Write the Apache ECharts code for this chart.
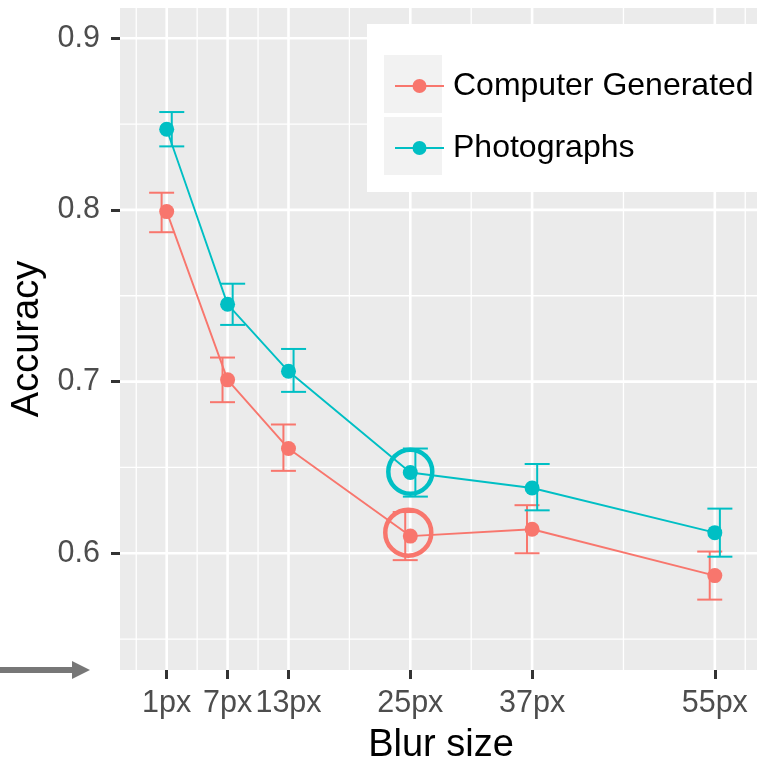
<!DOCTYPE html>
<html><head><meta charset="utf-8">
<script src="https://cdn.jsdelivr.net/npm/echarts@6/dist/echarts.min.js"></script>
<style>html,body{margin:0;padding:0;background:#fff}#c{width:757px;height:759px}</style>
</head><body><div id="c"></div>
<script>
// ---- data ----
const blurSizes = [1, 7, 13, 25, 37, 55];
const tickLabelSuffix = 'px';
const cgMean = [0.799, 0.701, 0.661, 0.610, 0.614, 0.587];
const cgLow  = [0.787, 0.688, 0.648, 0.596, 0.600, 0.573];
const cgHigh = [0.810, 0.714, 0.675, 0.624, 0.628, 0.601];
const phMean = [0.847, 0.745, 0.706, 0.647, 0.638, 0.612];
const phLow  = [0.837, 0.733, 0.694, 0.633, 0.625, 0.598];
const phHigh = [0.857, 0.757, 0.719, 0.661, 0.652, 0.626];
const yTicks = [0.6, 0.7, 0.8, 0.9];
const yMinor = [0.55, 0.65, 0.75, 0.85];
const xMinor = [-2, 4, 10, 19, 31, 46, 58];
const highlightCG = [24.8, 0.612];
const highlightPH = [25.0, 0.6475];
const seriesNames = ['Computer Generated', 'Photographs'];

// ---- settings ----
const X_MIN = -3.6, X_MAX = 59.65, Y_MIN = 0.532, Y_MAX = 0.9176;
const RED = '#F8766D', CYAN = '#00BFC4';
const DODGE = 0.5, CAP_HALF = 12.5;

const gridData = [];
blurSizes.forEach(v => gridData.push([v, 0, 1]));
xMinor.forEach(v => gridData.push([v, 0, 0]));
yTicks.forEach(v => gridData.push([v, 1, 1]));
yMinor.forEach(v => gridData.push([v, 1, 0]));

function gridRender(params, api) {
  const v = api.value(0), horiz = api.value(1), major = api.value(2);
  const cs = params.coordSys;
  let shape;
  if (horiz) {
    const p = api.coord([X_MIN, v]);
    shape = {x1: cs.x, y1: p[1], x2: cs.x + cs.width, y2: p[1]};
  } else {
    const p = api.coord([v, Y_MIN]);
    shape = {x1: p[0], y1: cs.y, x2: p[0], y2: cs.y + cs.height};
  }
  return {type: 'line', shape: shape, style: {stroke: '#FFFFFF', lineWidth: major ? 2.6 : 1.3}};
}

function errRender(shift, color) {
  return function (params, api) {
    const x = api.value(0) + shift;
    const lo = api.coord([x, api.value(1)]);
    const hi = api.coord([x, api.value(2)]);
    const st = {stroke: color, lineWidth: 2};
    return {type: 'group', children: [
      {type: 'line', shape: {x1: lo[0], y1: lo[1], x2: hi[0], y2: hi[1]}, style: st},
      {type: 'line', shape: {x1: lo[0] - CAP_HALF, y1: lo[1], x2: lo[0] + CAP_HALF, y2: lo[1]}, style: st},
      {type: 'line', shape: {x1: hi[0] - CAP_HALF, y1: hi[1], x2: hi[0] + CAP_HALF, y2: hi[1]}, style: st}
    ]};
  };
}

const cgErr = blurSizes.map((x, i) => [x, cgLow[i], cgHigh[i]]);
const phErr = blurSizes.map((x, i) => [x, phLow[i], phHigh[i]]);
const cgPts = blurSizes.map((x, i) => [x, cgMean[i]]);
const phPts = blurSizes.map((x, i) => [x, phMean[i]]);

const chart = echarts.init(document.getElementById('c'), null, {renderer: 'canvas'});
const FONT = '"Liberation Sans", Arial, Helvetica, sans-serif';
chart.setOption({
  animation: false,
  backgroundColor: '#FFFFFF',
  grid: {left: 120, top: 8, right: -5, bottom: 89, show: true, backgroundColor: '#EBEBEB', borderWidth: 0,
    containLabel: false, outerBoundsMode: 'none'},
  xAxis: {
    type: 'value', min: X_MIN, max: X_MAX,
    name: 'Blur size', nameLocation: 'middle', nameGap: 57,
    nameTextStyle: {fontSize: 38, color: '#000', fontFamily: FONT},
    axisLine: {show: false, onZero: false},
    splitLine: {show: false},
    axisTick: {show: true, customValues: blurSizes, length: 9, lineStyle: {color: '#333333', width: 3}},
    axisLabel: {customValues: blurSizes, formatter: v => v + tickLabelSuffix, margin: 18,
      fontSize: 30.5, color: '#4D4D4D', fontFamily: FONT}
  },
  yAxis: {
    type: 'value', min: Y_MIN, max: Y_MAX,
    name: 'Accuracy', nameLocation: 'middle', nameGap: 71, nameRotate: 90,
    nameTextStyle: {fontSize: 38, color: '#000', fontFamily: FONT},
    axisLine: {show: false, onZero: false},
    splitLine: {show: false},
    axisTick: {show: true, customValues: yTicks, length: 9, lineStyle: {color: '#333333', width: 3}},
    axisLabel: {customValues: yTicks, formatter: v => v.toFixed(1), margin: 20,
      fontSize: 30.5, color: '#4D4D4D', fontFamily: FONT}
  },
  legend: {
    data: seriesNames, orient: 'vertical', left: 389, top: 61, z: 100,
    itemWidth: 49, itemHeight: 17.5, itemGap: 22,
    textStyle: {fontSize: 32, color: '#000', fontFamily: FONT, lineHeight: 40, padding: [0, 0, 0, 4]},
    selectedMode: false
  },
  graphic: [
    {type: 'rect', z: 50, shape: {x: 367, y: 24, width: 420, height: 168}, style: {fill: '#FFFFFF'}},
    {type: 'rect', z: 51, shape: {x: 384, y: 55, width: 58, height: 58}, style: {fill: '#F2F2F2'}},
    {type: 'rect', z: 51, shape: {x: 384, y: 117, width: 58, height: 58}, style: {fill: '#F2F2F2'}},
    {type: 'line', z: 50, shape: {x1: 0, y1: 670, x2: 74, y2: 670}, style: {stroke: '#777777', lineWidth: 6}},
    {type: 'polygon', z: 50, shape: {points: [[72, 661], [90, 670], [72, 679]]}, style: {fill: '#777777'}}
  ],
  series: [
    {type: 'custom', name: 'gridlines', z: 1, silent: true, data: gridData, renderItem: gridRender,
      encode: {x: 0, y: 0}},
    {type: 'custom', name: 'cgErr', z: 2, data: cgErr, renderItem: errRender(-DODGE, RED), encode: {x: 0, y: [1, 2]}},
    {type: 'custom', name: 'phErr', z: 2, data: phErr, renderItem: errRender(DODGE, CYAN), encode: {x: 0, y: [1, 2]}},
    {type: 'line', name: seriesNames[0], z: 3, data: cgPts, symbol: 'circle', symbolSize: 15,
      color: RED, lineStyle: {width: 1.9, color: RED}, itemStyle: {color: RED}},
    {type: 'line', name: seriesNames[1], z: 3, data: phPts, symbol: 'circle', symbolSize: 15,
      color: CYAN, lineStyle: {width: 1.9, color: CYAN}, itemStyle: {color: CYAN}},
    {type: 'scatter', name: 'hlCG', z: 4, data: [highlightCG], symbol: 'circle', symbolSize: 46,
      itemStyle: {color: 'rgba(0,0,0,0)', borderColor: RED, borderWidth: 4.5, opacity: 1}},
    {type: 'scatter', name: 'hlPH', z: 4, data: [highlightPH], symbol: 'circle', symbolSize: 44,
      itemStyle: {color: 'rgba(0,0,0,0)', borderColor: CYAN, borderWidth: 4.5, opacity: 1}}
  ]
});
</script></body></html>
